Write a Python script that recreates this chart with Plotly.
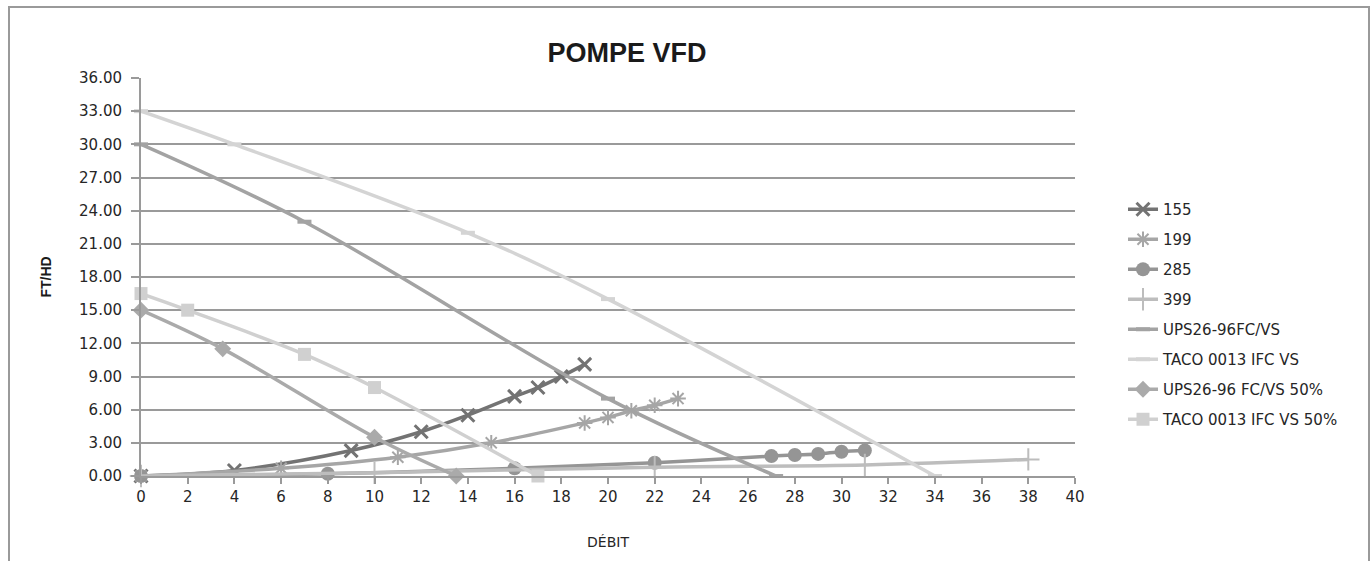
import plotly.graph_objects as go

# ---- data ----
x155 = [0, 4, 9, 12, 14, 16, 17, 18, 19]
y155 = [0, 0.5, 2.3, 4.0, 5.5, 7.2, 8.0, 9.0, 10.1]

x199 = [0, 6, 11, 15, 19, 20, 21, 22, 23]
y199 = [0, 0.7, 1.7, 3.0, 4.8, 5.3, 5.9, 6.4, 7.0]

x285 = [0, 8, 16, 22, 27, 28, 29, 30, 31]
y285 = [0, 0.2, 0.7, 1.2, 1.8, 1.9, 2.0, 2.2, 2.3]

x399 = [0, 10, 22, 31, 38]
y399 = [0, 0.3, 0.8, 1.0, 1.5]

x_ups = [0, 7, 20, 27.2]
y_ups = [30, 23, 7, 0]

x_taco = [0, 4, 14, 20, 34]
y_taco = [33, 30, 22, 16, 0]

x_ups50 = [0, 3.5, 10, 13.5]
y_ups50 = [15, 11.5, 3.5, 0]

x_taco50 = [0, 2, 7, 10, 17]
y_taco50 = [16.5, 15, 11, 8, 0]

names = ["155", "199", "285", "399", "UPS26-96FC/VS", "TACO 0013 IFC VS",
         "UPS26-96 FC/VS 50%", "TACO 0013 IFC VS 50%"]

y_ticks = [0, 3, 6, 9, 12, 15, 18, 21, 24, 27, 30, 33, 36]
x_ticks = list(range(0, 41, 2))

# ---- styles ----
styles = [
    dict(color="#737373", symbol="x-thin", size=13, lw=3),
    dict(color="#a6a6a6", symbol="asterisk", size=13, lw=2),
    dict(color="#959595", symbol="circle", size=14, lw=0),
    dict(color="#bdbdbd", symbol="cross-thin", size=16, lw=2),
    dict(color="#a3a3a3", symbol="line-ew", size=10, lw=4),
    dict(color="#d4d4d4", symbol="line-ew", size=10, lw=4),
    dict(color="#aaaaaa", symbol="diamond", size=13, lw=0),
    dict(color="#d0d0d0", symbol="square", size=13, lw=0),
]
series = [(x155, y155), (x199, y199), (x285, y285), (x399, y399),
          (x_ups, y_ups), (x_taco, y_taco), (x_ups50, y_ups50), (x_taco50, y_taco50)]

fig = go.Figure()
for i, ((xs, ys), nm, st) in enumerate(zip(series, names, styles)):
    fig.add_trace(go.Scatter(
        x=xs, y=ys, name=nm, mode="lines+markers",
        legendgroup=f"g{i}",
        line=dict(color=st["color"], width=3.5, shape="spline", smoothing=1),
        marker=dict(symbol=st["symbol"], size=st["size"], color=st["color"],
                    line=dict(color=st["color"], width=st["lw"])),
        cliponaxis=False,
    ))

W, H = 1372, 561
L, R, T, B = 141, 1075, 78, 476
pw, ph = R - L, B - T

def px2paper_x(px):
    return (px - L) / pw

def px2paper_y(py):
    return (B - py) / ph

tick_font = dict(family="DejaVu Sans", size=15, color="#262626")

fig.update_layout(
    width=W, height=H,
    margin=dict(l=L, r=W - R, t=T, b=H - B, autoexpand=False),
    paper_bgcolor="white", plot_bgcolor="white",
    title=dict(text="<b>POMPE VFD</b>", x=627 / W, xanchor="center",
               y=1 - 53 / H, yanchor="middle", xref="container", yref="container",
               font=dict(family="Liberation Sans", size=27, color="#1a1a1a")),
    showlegend=True,
    legend=dict(x=px2paper_x(1123), xanchor="left", y=px2paper_y(193), yanchor="top",
                font=dict(family="DejaVu Sans", size=15, color="#262626"),
                tracegroupgap=7.5, bgcolor="rgba(0,0,0,0)"),
    xaxis=dict(range=[0, 40], tickvals=x_ticks, ticktext=[str(v) for v in x_ticks],
               showgrid=False, zeroline=False, showline=True, linecolor="#9a9a9a",
               linewidth=2, ticks="outside", ticklen=6, tickwidth=2, tickcolor="#9a9a9a",
               tickfont=tick_font,
               title=dict(text="DÉBIT", font=dict(family="DejaVu Sans", size=14, color="#262626"),
                          standoff=32)),
    yaxis=dict(range=[0, 36], tickvals=y_ticks, tickformat=".2f",
               showgrid=True, gridcolor="#9a9a9a", gridwidth=2,
               zeroline=False, showline=True, linecolor="#9a9a9a", linewidth=2,
               ticks="outside", ticklen=8, tickwidth=2, tickcolor="#9a9a9a",
               tickfont=tick_font, ticklabelstandoff=6,
               title=dict(text="<b>FT/HD</b>",
                          font=dict(family="Liberation Sans", size=14, color="#1a1a1a"),
                          standoff=24)),
    shapes=[dict(type="rect", xref="paper", yref="paper",
                 x0=px2paper_x(9), x1=px2paper_x(1369),
                 y0=px2paper_y(620), y1=px2paper_y(7),
                 line=dict(color="#9a9a9a", width=2), fillcolor="rgba(0,0,0,0)",
                 layer="below")],
)

fig.write_html(
    "out.html",
    config={"displayModeBar": False},
    post_script="document.body.style.margin='0';document.body.style.overflow='hidden';",
)
